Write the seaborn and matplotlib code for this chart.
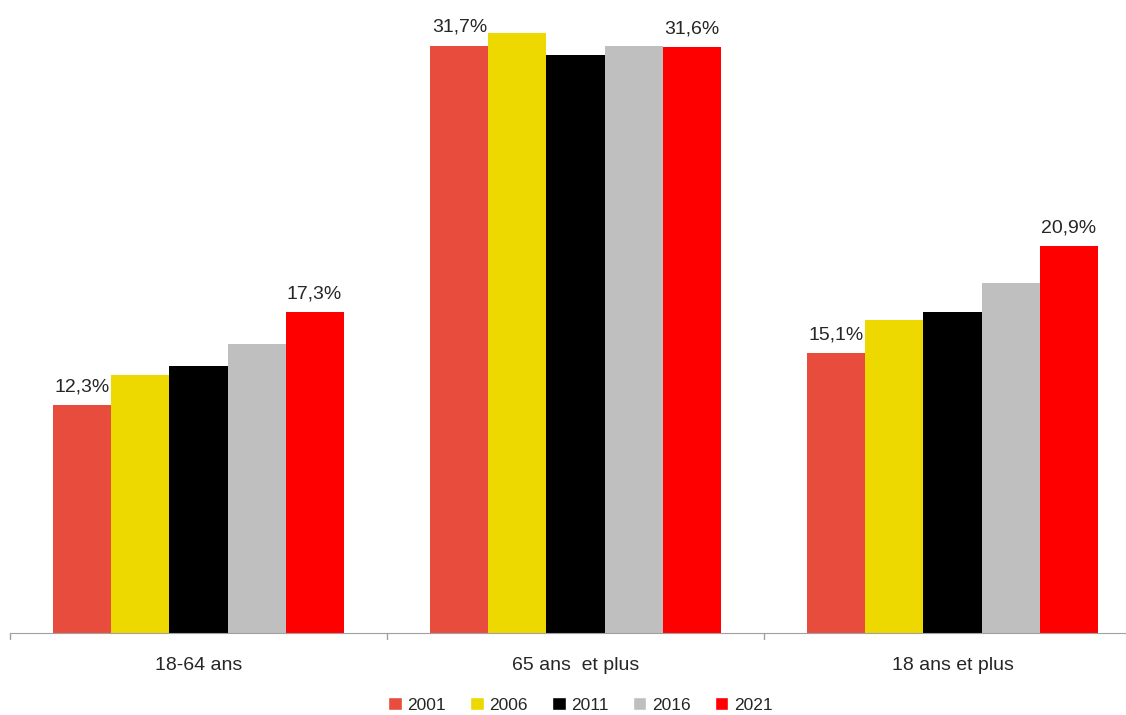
import matplotlib
matplotlib.use("Agg")
import matplotlib.pyplot as plt
import seaborn as sns
import pandas as pd

categories = ["18-64 ans", "65 ans  et plus", "18 ans et plus"]
years = ["2001", "2006", "2011", "2016", "2021"]
v2001 = [12.3, 31.7, 15.1]
v2006 = [13.9, 32.4, 16.9]
v2011 = [14.4, 31.2, 17.3]
v2016 = [15.6, 31.7, 18.9]
v2021 = [17.3, 31.6, 20.9]
colors = ["#E84C3D", "#EDD900", "#000000", "#BFBFBF", "#FF0000"]

series = [v2001, v2006, v2011, v2016, v2021]
rows = []
for y, vals in zip(years, series):
    for c, v in zip(categories, vals):
        rows.append({"cat": c, "year": y, "val": v})
df = pd.DataFrame(rows)

sns.set_style("white")
plt.rcParams['font.family'] = ['Liberation Sans', 'DejaVu Sans']

fig = plt.figure(figsize=(11.26, 7.15), dpi=100)
ax = fig.add_axes([10/1126, (715-633)/715, 1116/1126, 630/715])
sns.barplot(data=df, x="cat", y="val", hue="year", order=categories,
            hue_order=years, palette=colors, width=0.77, saturation=1,
            linewidth=0, ax=ax, legend=False)

ax.set_ylim(0, 34)
ax.set_xlim(-0.5, -0.5 + 1116/377)
ax.set_xlabel("")
ax.set_ylabel("")
ax.set_yticks([])
for s in ["top", "right", "left"]:
    ax.spines[s].set_visible(False)
ax.spines["bottom"].set_color("#A0A0A0")
ax.set_xticks([0, 1, 2])
ax.set_xticklabels(categories, fontsize=14)
ax.tick_params(axis="x", length=0, pad=17)
for xb in [-0.5, 0.5, 1.5]:
    ax.plot([xb, xb], [0, -0.35], color="#A0A0A0", lw=1, clip_on=False)

# labels on first and last series
for ci, cont in enumerate(ax.containers):
    if ci in (0, len(ax.containers) - 1):
        labels = [f"{v:.1f}%".replace(".", ",") for v in series[ci]]
        ax.bar_label(cont, labels=labels, padding=7, fontsize=14)

from matplotlib.patches import Patch
handles = [Patch(facecolor=c, label=y) for c, y in zip(colors, years)]
fig.legend(handles=handles, loc="center", bbox_to_anchor=(580/1126, 1 - 705/715),
           ncol=5, frameon=False, fontsize=12.5, handlelength=0.8, handleheight=0.8,
           handletextpad=0.3, columnspacing=1.4)

fig.savefig("out.png", dpi=100)
